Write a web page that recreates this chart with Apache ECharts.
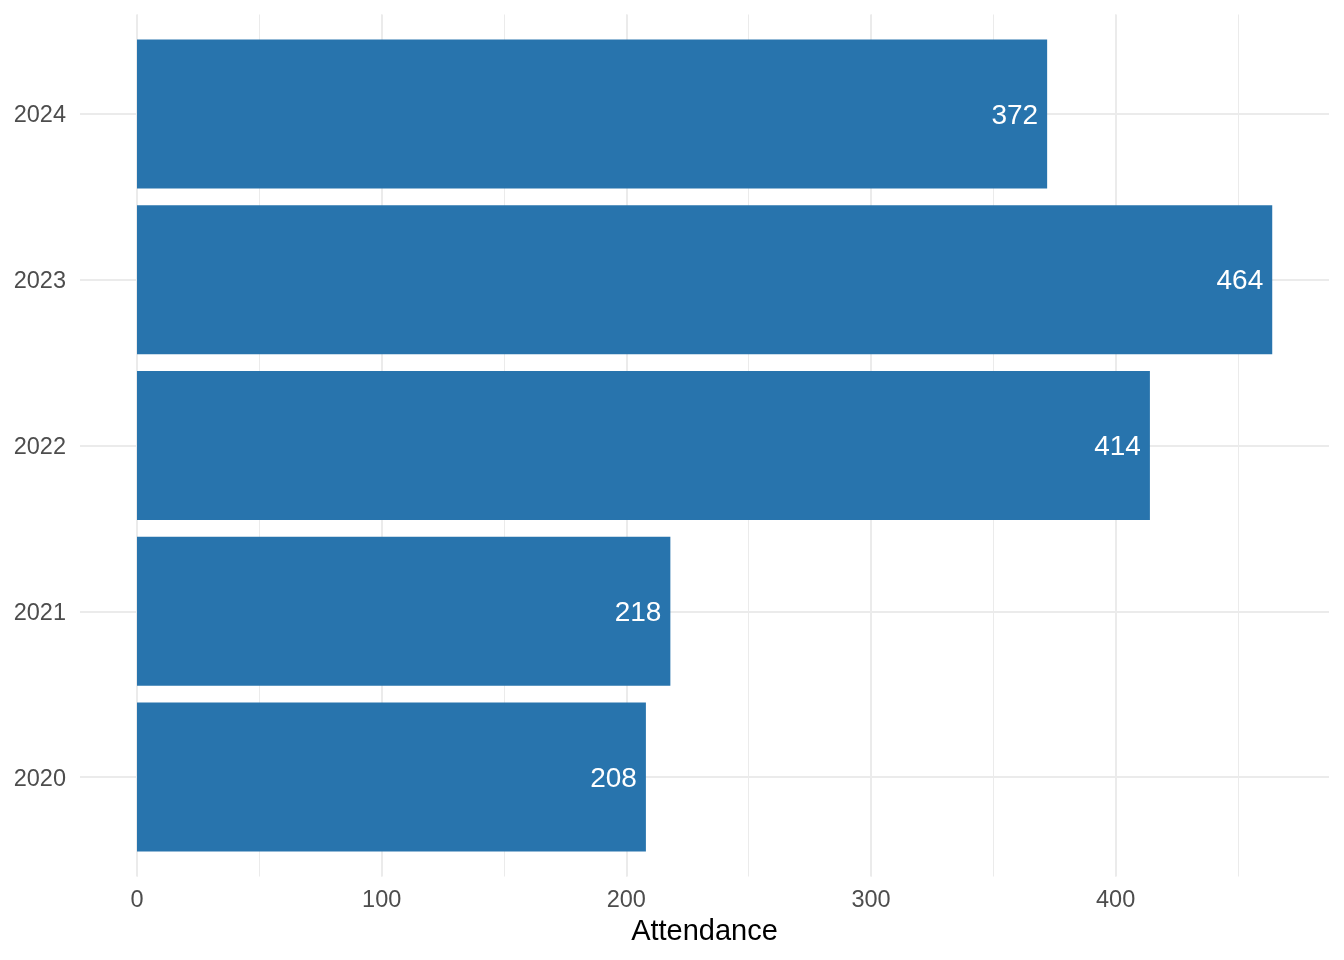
<!doctype html>
<html>
    <head>
        <meta charset="utf-8">
        <title>Attendance by year</title>
        <style>
            html, body { margin: 0; padding: 0; background: #fff; }
            #main { width: 1344px; height: 960px; }
        </style>
    </head>
    <body>
        <div id="main"></div>
        <script src="https://cdn.jsdelivr.net/npm/echarts@6/dist/echarts.min.js"></script>
        <script>
            var years = ['2020', '2021', '2022', '2023', '2024'];
            var attendance = [208, 218, 414, 464, 372];
            var xMax = 487.2; // ggplot adds 5% past the biggest bar

            var chart = echarts.init(document.getElementById('main'));
            var font = 'Liberation Sans';
            var gridColor = '#ebebeb';

            // the full panel runs 14.5..876.5 px; the category bands sit inside it
            // with 0.6 band of padding at each end, as ggplot does
            var band = { top: 31.1, bottom: 100.1 };
            var panel = { top: 14.5, bottom: 83.5 };

            chart.setOption({
                backgroundColor: '#fff',
                textStyle: { fontFamily: font },
                grid: [
                    // 0: year labels, horizontal lines, axis title
                    { left: 80, right: 15, top: band.top, bottom: band.bottom },
                    // 1: bars
                    { left: 137, right: 15, top: band.top, bottom: band.bottom },
                    // 2: vertical lines and value labels
                    { left: 137, right: 15, top: panel.top, bottom: panel.bottom }
                ],
                xAxis: [{
                    gridIndex: 0,
                    type: 'value',
                    min: 0,
                    max: 1,
                    name: 'Attendance',
                    nameLocation: 'middle',
                    nameGap: 57.6,
                    nameTextStyle: { color: '#000', fontSize: 29, fontFamily: font },
                    axisLine: { show: false },
                    axisTick: { show: false },
                    axisLabel: { show: false },
                    splitLine: { show: false }
                }, {
                    gridIndex: 1,
                    type: 'value',
                    min: 0,
                    max: xMax,
                    show: false
                }, {
                    gridIndex: 2,
                    type: 'value',
                    min: 0,
                    max: xMax,
                    interval: 100,
                    axisLine: { show: false },
                    axisTick: { show: false },
                    axisLabel: {
                        color: '#4d4d4d',
                        fontSize: 23.5,
                        fontFamily: font,
                        margin: 12,
                        showMaxLabel: false,
                        formatter: function (v) { return v % 100 === 0 ? String(v) : ''; }
                    },
                    splitLine: { show: true, showMaxLine: false, lineStyle: { color: gridColor, width: 2 } }
                }, {
                    gridIndex: 2,
                    type: 'value',
                    position: 'bottom',
                    min: 0,
                    max: xMax,
                    interval: 50,
                    axisLine: { show: false },
                    axisTick: { show: false },
                    axisLabel: { show: false },
                    splitLine: { show: true, showMaxLine: false, lineStyle: { color: gridColor, width: 1 } }
                }],
                yAxis: [{
                    gridIndex: 0,
                    type: 'category',
                    data: years,
                    axisLine: { show: false },
                    axisTick: { show: false },
                    axisLabel: {
                        margin: 14,
                        formatter: function (v) { return '{y|' + v + '}'; },
                        rich: {
                            y: {
                                color: '#4d4d4d',
                                fontSize: 23.5,
                                fontFamily: font,
                                padding: [4, 0, 0, 0]
                            }
                        }
                    },
                    splitLine: { show: false }
                }, {
                    gridIndex: 1,
                    type: 'category',
                    data: years,
                    show: false
                }, {
                    gridIndex: 2,
                    type: 'value',
                    min: 0,
                    max: 1,
                    show: false
                }],
                series: [{
                    // horizontal grid lines across the whole panel width
                    type: 'line',
                    xAxisIndex: 0,
                    yAxisIndex: 0,
                    data: [],
                    silent: true,
                    markLine: {
                        silent: true,
                        symbol: 'none',
                        label: { show: false },
                        lineStyle: { color: gridColor, width: 2, type: 'solid' },
                        data: years.map(function (y) {
                            return [{ coord: [0, y] }, { coord: [1, y] }];
                        })
                    }
                }, {
                    type: 'bar',
                    xAxisIndex: 1,
                    yAxisIndex: 1,
                    data: attendance,
                    barCategoryGap: '10%',
                    itemStyle: { color: '#2874ad' },
                    label: {
                        show: true,
                        position: 'insideRight',
                        distance: 9,
                        offset: [0, 2],
                        color: '#fff',
                        fontSize: 28,
                        fontFamily: font
                    },
                    z: 5
                }]
            });

            window.addEventListener('resize', function () {
                chart.resize();
            });
        </script>
    </body>
</html>
